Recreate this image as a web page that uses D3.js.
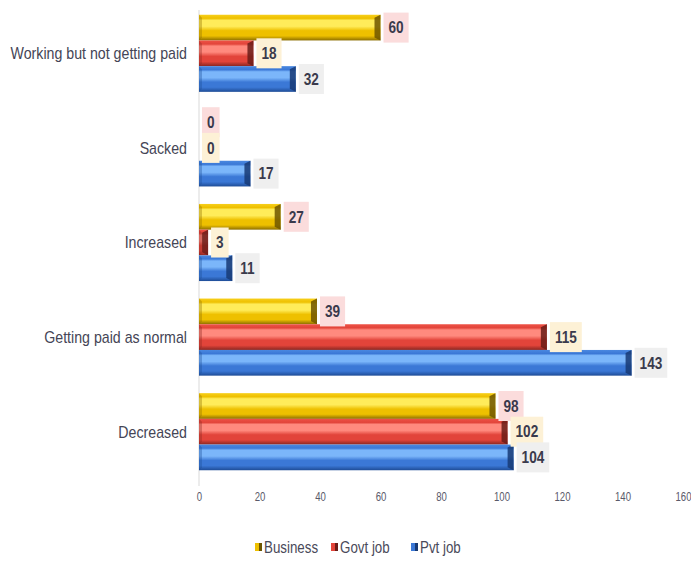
<!DOCTYPE html>
<html>
<head>
<meta charset="utf-8">
<script src="https://cdn.jsdelivr.net/npm/d3@7"></script>
<style>
  html, body { margin: 0; padding: 0; background: #fff; }
  svg text { font-family: "Liberation Sans", Arial, sans-serif; }
</style>
</head>
<body>
<svg id="chart" width="691" height="561"></svg>
<script>
// Responses by category and employment type
const categories = ["Working but not getting paid", "Sacked", "Increased", "Getting paid as normal", "Decreased"];
const seriesNames = ["Business", "Govt job", "Pvt job"];
const business = [60, 0, 27, 39, 98];
const govtJob = [18, 0, 3, 115, 102];
const pvtJob = [32, 17, 11, 143, 104];
const xTicks = [0, 20, 40, 60, 80, 100, 120, 140, 160];

const seriesValues = [business, govtJob, pvtJob];
const palette = [
  { top: "#f7cf1a", hi: "#ffec5a", mid: "#eec000", bot: "#8c6e00", cap: "#6e5600", label: "#fbdcdc" },
  { top: "#ee5246", hi: "#ff8a7e", mid: "#e2443a", bot: "#8a2620", cap: "#6a1c18", label: "#fdf1d6" },
  { top: "#4a88e0", hi: "#7bb6fa", mid: "#3b78d6", bot: "#1e4c96", cap: "#173a74", label: "#efefef" }
];

// Horizontal compression for a narrow typeface look
const NARROW = 0.835;

const svg = d3.select("#chart");
const x = d3.scaleLinear().domain([0, 160]).range([199, 683]);
const y = d3.scaleBand().domain(categories).range([6, 479]).paddingInner(0.185).paddingOuter(0.0925);
const ySub = d3.scaleBand().domain(seriesNames).range([0, y.bandwidth()]).padding(0);

function narrowText(sel, px, py, s) {
  return sel.attr("x", 0).attr("y", 0)
    .attr("transform", `translate(${px},${py}) scale(${s},1)`);
}

// Bevel gradients
const defs = svg.append("defs");
palette.forEach((p, i) => {
  const g = defs.append("linearGradient").attr("id", "grad" + i)
    .attr("x1", 0).attr("y1", 0).attr("x2", 0).attr("y2", 1);
  g.append("stop").attr("offset", "0%").attr("stop-color", p.top);
  g.append("stop").attr("offset", "14%").attr("stop-color", p.mid);
  g.append("stop").attr("offset", "22%").attr("stop-color", p.hi);
  g.append("stop").attr("offset", "45%").attr("stop-color", p.hi);
  g.append("stop").attr("offset", "62%").attr("stop-color", p.mid);
  g.append("stop").attr("offset", "82%").attr("stop-color", p.mid);
  g.append("stop").attr("offset", "100%").attr("stop-color", p.bot);
});

// Value axis baseline
svg.append("line")
  .attr("x1", x(0)).attr("x2", x(0))
  .attr("y1", 10).attr("y2", 486)
  .attr("stroke", "#d9d9d9").attr("stroke-width", 1);

// X axis tick labels
const xAxis = d3.axisBottom(x).tickValues(xTicks).tickSize(0).tickPadding(0);
const axG = svg.append("g").attr("transform", "translate(0,492)").call(xAxis);
axG.select(".domain").remove();
axG.selectAll("text")
  .attr("fill", "#5a5a6a")
  .attr("font-size", 12)
  .attr("transform", "scale(0.8,1)")
  .style("font-family", '"Liberation Sans", Arial, sans-serif');

// Category labels
svg.append("g").selectAll("text").data(categories).join("text")
  .each(function (d) {
    narrowText(d3.select(this), 187, y(d) + y.bandwidth() / 2, NARROW);
  })
  .attr("dy", "0.35em")
  .attr("text-anchor", "end")
  .attr("font-size", 17)
  .attr("fill", "#454556")
  .text(d => d);

// Bars
const bars = [];
seriesValues.forEach((vals, si) => {
  vals.forEach((v, ci) => {
    bars.push({ si, ci, v, cat: categories[ci], name: seriesNames[si] });
  });
});

const barG = svg.append("g");
bars.forEach(b => {
  const y0 = y(b.cat) + ySub(b.name);
  const h = ySub.bandwidth();
  const x0 = x(0);
  const w = x(b.v) - x(0);
  if (w <= 0) return;
  const p = palette[b.si];
  const g = barG.append("g");
  g.append("rect")
    .attr("x", x0).attr("y", y0).attr("width", w).attr("height", h)
    .attr("fill", `url(#grad${b.si})`);
  // end cap bevel
  const capW = Math.min(6, w);
  g.append("path")
    .attr("d", `M${x0 + w - capW},${y0 + 3} L${x0 + w},${y0} L${x0 + w},${y0 + h} L${x0 + w - capW},${y0 + h - 3} Z`)
    .attr("fill", p.cap).attr("opacity", 0.85);
  // left bevel
  g.append("path")
    .attr("d", `M${x0},${y0} L${x0 + 3},${y0 + 3} L${x0 + 3},${y0 + h - 3} L${x0},${y0 + h} Z`)
    .attr("fill", p.bot).attr("opacity", 0.35);
});

// Value labels (drawn in series order so later ones sit on top)
const VAL_SCALE = 0.85;
const labelG = svg.append("g");
bars.forEach(b => {
  const cy = y(b.cat) + ySub(b.name) + ySub.bandwidth() / 2;
  const bx = x(b.v) + 3;
  const lg = labelG.append("g");
  const rect = lg.append("rect").attr("fill", palette[b.si].label);
  const t = lg.append("text")
    .attr("dy", "0.36em")
    .attr("font-size", 16)
    .attr("font-weight", "bold")
    .attr("fill", "#3a3a4c")
    .text(b.v);
  narrowText(t, bx + 5, cy, VAL_SCALE);
  const tw = t.node().getComputedTextLength() * VAL_SCALE;
  rect.attr("x", bx).attr("y", cy - 15).attr("width", tw + 10).attr("height", 30);
});

// Legend
const legendX = [255, 331, 411];
const legG = svg.append("g");
seriesNames.forEach((n, i) => {
  const p = palette[i];
  legG.append("rect")
    .attr("x", legendX[i]).attr("y", 543).attr("width", 7).attr("height", 8)
    .attr("fill", p.mid);
  legG.append("rect")
    .attr("x", legendX[i] + 4).attr("y", 543).attr("width", 3).attr("height", 8)
    .attr("fill", p.cap);
  const t = legG.append("text")
    .attr("dy", "0.35em")
    .attr("font-size", 16)
    .attr("fill", "#4a4a5a")
    .text(n);
  narrowText(t, legendX[i] + 9, 547, NARROW);
});
</script>
</body>
</html>
